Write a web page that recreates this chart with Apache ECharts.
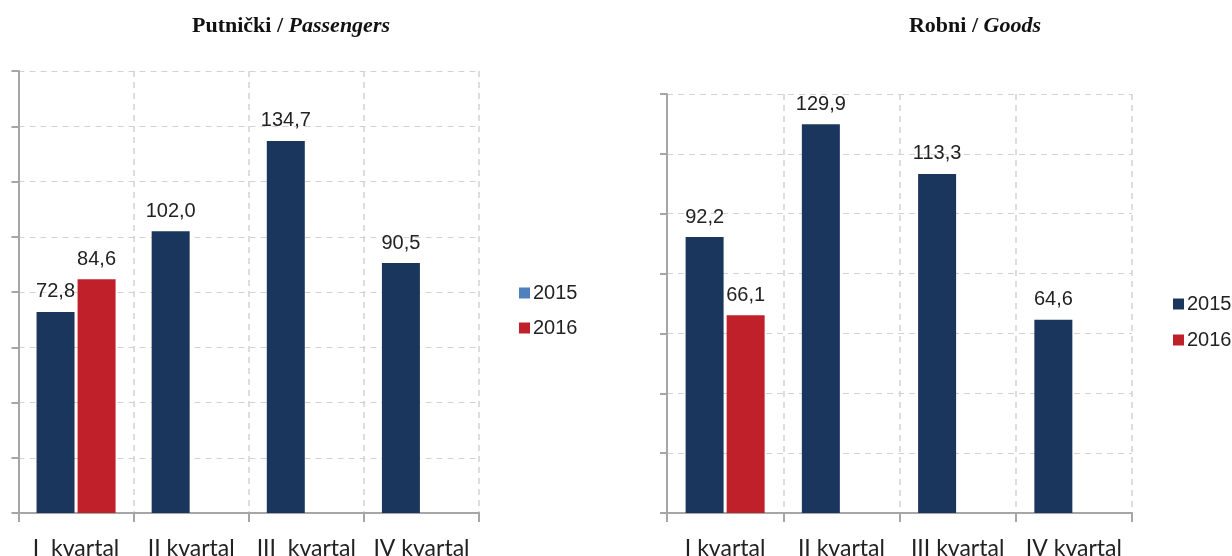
<!DOCTYPE html>
<html>
<head>
<meta charset="utf-8">
<script src="https://cdn.jsdelivr.net/npm/echarts@6/dist/echarts.min.js"></script>
<style>html,body{margin:0;padding:0;background:#fff}#c{width:1232px;height:556px}</style>
</head>
<body>
<div id="c"></div>
<script>
const categoriesLeft = ['I  kvartal', 'II kvartal', 'III  kvartal', 'IV kvartal'];
const categoriesRight = ['I kvartal', 'II kvartal', 'III kvartal', 'IV kvartal'];
const passengers2015 = [72.8, 102.0, 134.7, 90.5];
const passengers2016 = [84.6, null, null, null];
const goods2015 = [92.2, 129.9, 113.3, 64.6];
const goods2016 = [66.1, null, null, null];
const seriesNames = ['2015', '2016'];

const NAVY = '#1a365d', RED = '#c0202a', AXIS = '#a6a6a6', GRID = '#d2d2d2';
const chart = echarts.init(document.getElementById('c'));

function xAxis(idx, cats) {
  return {
    type: 'category', gridIndex: idx, data: cats, boundaryGap: true,
    axisLine: { lineStyle: { color: AXIS, width: 2 } },
    axisTick: { show: true, interval: 0, length: 9, lineStyle: { color: AXIS, width: 2 } },
    axisLabel: { interval: 0, hideOverlap: false, color: '#222', fontFamily: 'Lato', fontSize: 23, margin: 24 },
    splitLine: { show: true, interval: 0, lineStyle: { color: GRID, type: [6, 5], width: 1.5 } }
  };
}
function yAxis(idx, max) {
  return {
    type: 'value', gridIndex: idx, min: 0, max: max, interval: 20,
    axisLine: { show: true, lineStyle: { color: AXIS, width: 2 } },
    axisTick: { show: true, length: 7, lineStyle: { color: AXIS, width: 2 } },
    axisLabel: { show: false },
    splitLine: { show: true, lineStyle: { color: GRID, type: [6, 5], width: 1 } }
  };
}
const fmt = p => p.value == null ? '' : p.value.toFixed(1).replace('.', ',');
function bar(name, xi, data, color) {
  return {
    type: 'bar', name: name, xAxisIndex: xi, yAxisIndex: xi, data: data,
    barWidth: 38, barGap: '8%',
    itemStyle: { color: color },
    label: { show: true, position: 'top', distance: 10, formatter: fmt,
             color: '#222', fontFamily: 'Liberation Sans', fontSize: 20 }
  };
}
const titleRich = {
  b: { fontFamily: 'Liberation Serif', fontWeight: 'bold', fontSize: 22, color: '#111' },
  i: { fontFamily: 'Liberation Serif', fontWeight: 'bold', fontStyle: 'italic', fontSize: 22, color: '#111' }
};
chart.setOption({
  animation: false,
  title: [
    { text: '{b|Putnički / }{i|Passengers}', left: 286, top: 10, textAlign: 'center', textStyle: { rich: titleRich } },
    { text: '{b|Robni / }{i|Goods}', left: 970, top: 10, textAlign: 'center', textStyle: { rich: titleRich } }
  ],
  grid: [
    { left: 18.5, top: 71, width: 460.5, height: 442, outerBoundsMode: 'none', containLabel: false },
    { left: 667, top: 94, width: 465, height: 419, outerBoundsMode: 'none', containLabel: false }
  ],
  legend: [
    { left: 514, top: 278, orient: 'vertical', itemGap: 15, itemWidth: 11, itemHeight: 11, icon: 'rect',
      textStyle: { color: '#222', fontFamily: 'Liberation Sans', fontSize: 20, padding: [0, 0, 0, -2] },
      data: [{ name: seriesNames[0], itemStyle: { color: '#4f81bd' } }, { name: seriesNames[1], itemStyle: { color: RED } }] },
    { left: 1168, top: 289, orient: 'vertical', itemGap: 16, itemWidth: 11, itemHeight: 11, icon: 'rect',
      textStyle: { color: '#222', fontFamily: 'Liberation Sans', fontSize: 20, padding: [0, 0, 0, -2] },
      data: [{ name: seriesNames[0], itemStyle: { color: NAVY } }, { name: seriesNames[1], itemStyle: { color: RED } }] }
  ],
  xAxis: [xAxis(0, categoriesLeft), xAxis(1, categoriesRight)],
  yAxis: [yAxis(0, 160), yAxis(1, 140)],
  series: [
    bar(seriesNames[0], 0, passengers2015, NAVY),
    bar(seriesNames[1], 0, passengers2016, RED),
    bar(seriesNames[0], 1, goods2015, NAVY),
    bar(seriesNames[1], 1, goods2016, RED)
  ]
});
</script>
</body>
</html>
